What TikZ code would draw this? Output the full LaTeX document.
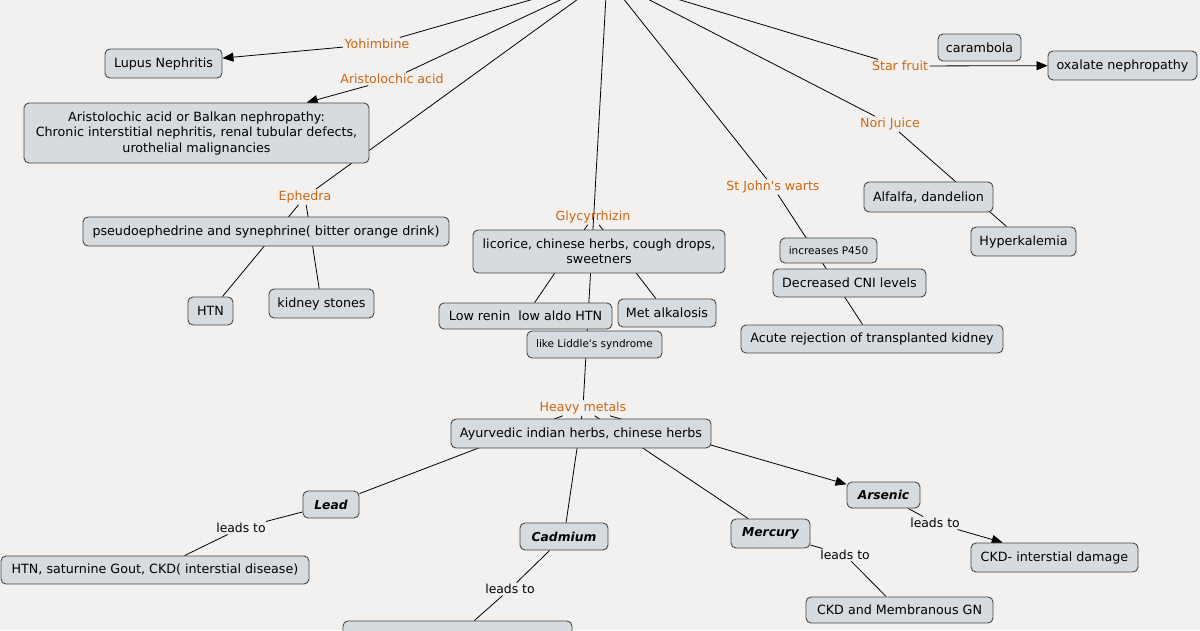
\documentclass[tikz,border=0pt]{standalone}
\usepackage{fontspec}
\setmainfont{DejaVu Sans}[Ligatures=TeXOff]
\usetikzlibrary{arrows.meta,backgrounds}
\definecolor{bgc}{RGB}{242,241,239}
\definecolor{boxc}{RGB}{213,219,222}
\definecolor{lblc}{RGB}{204,102,20}
\begin{document}
\begin{tikzpicture}[x=1pt,y=-1pt,
  box/.style={draw=black!72, fill=boxc, rounded corners=5pt, line width=0.9pt, inner sep=0pt, align=center, font=\fontsize{12.7}{15.5}\selectfont},
  sbox/.style={box, font=\fontsize{10.5}{13}\selectfont},
  mbox/.style={box, font=\fontsize{12.3}{15.5}\selectfont\bfseries\itshape},
  lab/.style={text=lblc, inner sep=1.5pt, font=\fontsize{12.6}{15}\selectfont},
  blab/.style={text=black, inner sep=1.5pt, font=\fontsize{12.4}{15}\selectfont},
  link/.style={line width=0.8pt, black},
  arr/.style={link, -{Triangle[length=11pt,width=9pt]}}]
\useasboundingbox (0,0) rectangle (1200,630);
\clip (0,0) rectangle (1200,630);
\coordinate (T) at (607,-22);
% linking phrases
\node[lab] (yoh) at (377,44) {Yohimbine};
\node[lab] (arl) at (392,79) {Aristolochic acid};
\node[lab] (eph) at (305,197) {Ephedra};
\node[lab] (gly) at (593,217) {Glycyrrhizin};
\node[lab] (hm) at (583,408) {Heavy metals};
\node[lab] (sj) at (773,187) {St John's warts};
\node[lab] (nori) at (890,124) {Nori Juice};
\node[lab] (star) at (900,66) {Star fruit};
\node[blab] (lt1) at (241,528) {leads to};
\node[blab] (lt2) at (510,589) {leads to};
\node[blab] (lt3) at (845,555) {leads to};
\node[blab] (lt4) at (935,523) {leads to};
% concepts
\node[box, minimum width=117pt, minimum height=29pt] (lupus) at (163.5,63.5) {Lupus Nephritis};
\node[box, minimum width=345pt, minimum height=60pt] (aris) at (196.5,133) {Aristolochic acid or Balkan nephropathy:\\Chronic interstitial nephritis, renal tubular defects,\\urothelial malignancies};
\node[box, minimum width=366pt, minimum height=29pt] (pseudo) at (266,231.5) {pseudoephedrine and synephrine( bitter orange drink)};
\node[box, minimum width=45pt, minimum height=28pt] (htn) at (210.5,311) {HTN};
\node[box, minimum width=105pt, minimum height=29pt] (kid) at (321.5,303.5) {kidney stones};
\node[box, minimum width=252pt, minimum height=43pt] (lic) at (599,251.5) {licorice, chinese herbs, cough drops,\\sweetners};
\node[box, minimum width=173pt, minimum height=26pt] (lowr) at (525.5,316) {Low renin\ \ low aldo HTN};
\node[box, minimum width=98pt, minimum height=28pt] (met) at (667,313) {Met alkalosis};
\node[sbox, minimum width=135pt, minimum height=27pt] (lid) at (594.5,344.5) {like Liddle's syndrome};
\node[box, minimum width=260pt, minimum height=29pt] (ayur) at (581,433.5) {Ayurvedic indian herbs, chinese herbs};
\node[sbox, minimum width=97pt, minimum height=25pt] (p450) at (828.5,250.5) {increases P450};
\node[box, minimum width=153pt, minimum height=28pt] (cni) at (849.5,283) {Decreased CNI levels};
\node[box, minimum width=262pt, minimum height=28pt] (acute) at (872,339) {Acute rejection of transplanted kidney};
\node[box, minimum width=83pt, minimum height=27pt] (caram) at (979.5,47.5) {carambola};
\node[box, minimum width=149pt, minimum height=29pt] (oxal) at (1122.5,65.5) {oxalate nephropathy};
\node[box, minimum width=129pt, minimum height=30pt] (alf) at (928.5,197) {Alfalfa, dandelion};
\node[box, minimum width=105pt, minimum height=29pt] (hyper) at (1023.5,241.5) {Hyperkalemia};
\node[mbox, minimum width=56pt, minimum height=27pt] (lead) at (331,504.5) {Lead};
\node[mbox, minimum width=88pt, minimum height=27pt] (cad) at (564,536.5) {Cadmium};
\node[mbox, minimum width=79pt, minimum height=29pt] (merc) at (770.5,533.5) {Mercury};
\node[mbox, minimum width=73pt, minimum height=26pt] (ars) at (883.5,495) {Arsenic};
\node[box, minimum width=308pt, minimum height=28pt] (gout) at (155,570) {HTN, saturnine Gout, CKD( interstial disease)};
\node[box, minimum width=167pt, minimum height=29pt] (ckdi) at (1054.5,557.5) {CKD- interstial damage};
\node[box, minimum width=187pt, minimum height=26pt] (ckdm) at (899.5,610) {CKD and Membranous GN};
\node[box, minimum width=229pt, minimum height=29pt] (cadres) at (457.5,635.5) {};
\begin{pgfonlayer}{background}
\clip (0,0) rectangle (1200,630);
\fill[bgc] (0,0) rectangle (1200,630);
\draw[link] (T) -- (yoh);
\draw[arr] (yoh) -- (lupus);
\draw[link] (T) -- (arl);
\draw[arr] (arl) -- (aris);
\draw[link] (T) -- (eph);
\draw[link] (eph) -- (htn);
\draw[link] (eph) -- (kid);
\draw[link] (T) -- (hm);
\draw[link] (gly) -- (lowr);
\draw[link] (gly) -- (met);
\draw[link] (hm) -- (lead);
\draw[link] (hm) -- (cad);
\draw[link] (hm) -- (merc);
\draw[arr] (hm) -- (ars);
\draw[link] (lead) -- (lt1);
\draw[link] (lt1) -- (gout);
\draw[link] (cad) -- (lt2);
\draw[link] (lt2) -- (cadres);
\draw[link] (merc) -- (lt3);
\draw[link] (lt3) -- (ckdm);
\draw[link] (ars) -- (lt4);
\draw[arr] (lt4) -- (ckdi);
\draw[link] (T) -- (sj);
\draw[link] (sj) -- (acute);
\draw[link] (T) -- (nori);
\draw[link] (nori) -- (hyper);
\draw[link] (T) -- (star);
\draw[arr] (star) -- (oxal);
\end{pgfonlayer}
\end{tikzpicture}
\end{document}
